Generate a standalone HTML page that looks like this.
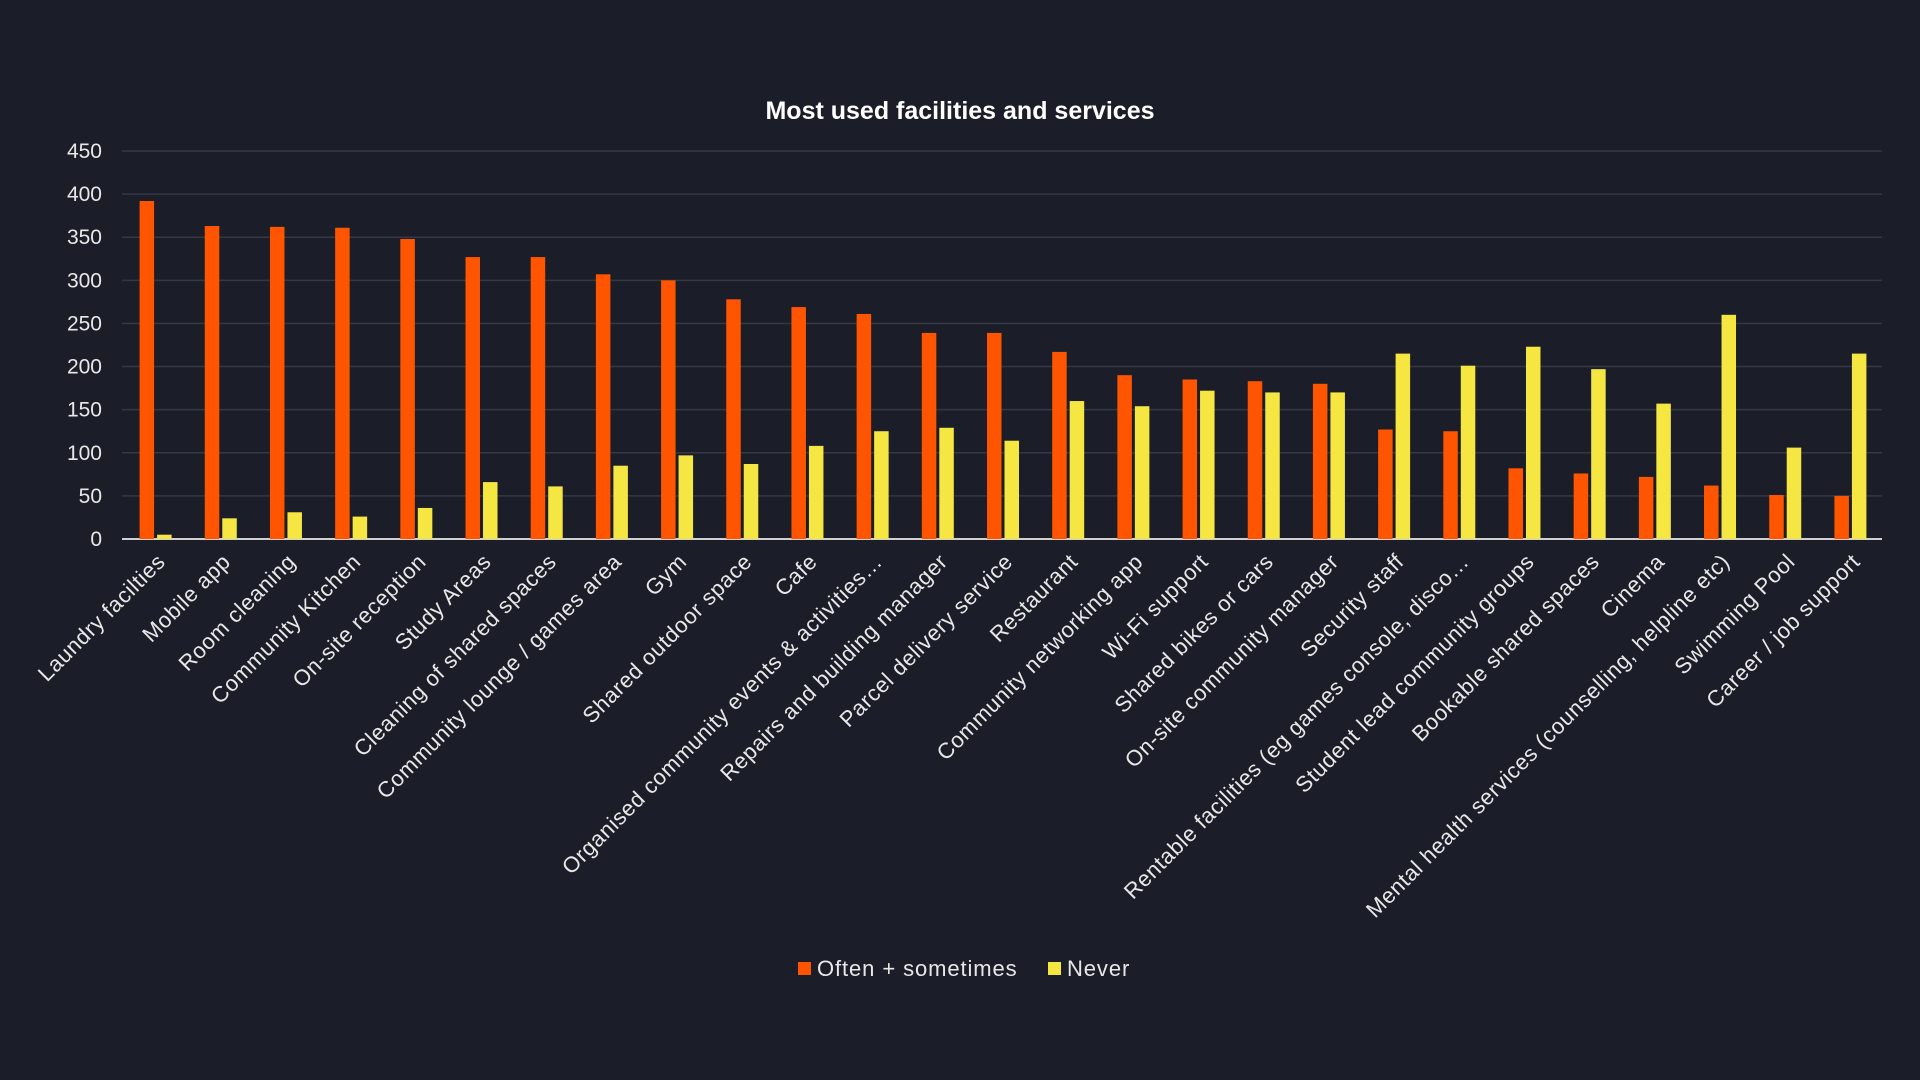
<!DOCTYPE html>
<html><head><meta charset="utf-8"><style>
html,body{margin:0;padding:0;background:#1b1e28;}
svg{display:block;font-family:"Liberation Sans",sans-serif;}
</style></head><body>
<svg id="chart" width="1920" height="1080">
<rect width="1920" height="1080" fill="#1b1e28"/>
<text x="960" y="119" fill="#fff" font-size="25" font-weight="bold" text-anchor="middle">Most used facilities and services</text>
<g id="grid"></g><g id="bars"></g><g id="labels"></g>
<g>
<rect x="798" y="962" width="13" height="13" fill="#ff5500"/>
<text x="817" y="976" fill="#e8e8e8" font-size="22" letter-spacing="0.9">Often + sometimes</text>
<rect x="1048" y="962" width="13" height="13" fill="#f5e642"/>
<text x="1067" y="976" fill="#e8e8e8" font-size="22" letter-spacing="0.9">Never</text>
</g>
</svg>
<script>
const categories=["Laundry facilties","Mobile app","Room cleaning","Community Kitchen","On-site reception","Study Areas","Cleaning of shared spaces","Community lounge / games area","Gym","Shared outdoor space","Cafe","Organised community events & activities…","Repairs and building manager","Parcel delivery service","Restaurant","Community networking app","Wi-Fi support","Shared bikes or cars","On-site community manager","Security staff","Rentable facilities (eg games console, disco…","Student lead community groups","Bookable shared spaces","Cinema","Mental health services (counselling, helpline etc)","Swimming Pool","Career / job support"];
const often=[392,363,362,361,348,327,327,307,300,278,269,261,239,239,217,190,185,183,180,127,125,82,76,72,62,51,50];
const never=[5,24,31,26,36,66,61,85,97,87,108,125,129,114,160,154,172,170,170,215,201,223,197,157,260,106,215];
const ticks=[0,50,100,150,200,250,300,350,400,450];
const NS="http://www.w3.org/2000/svg";
const x0=122,x1=1882,yBase=539,yTop=151,maxV=450;
const step=(x1-x0)/categories.length;
const y=v=>yBase-(v/maxV)*(yBase-yTop);
const xc=i=>x0+step*(i+0.5);
function mk(tag,attrs,parent){const e=document.createElementNS(NS,tag);for(const k in attrs)e.setAttribute(k,attrs[k]);parent.appendChild(e);return e;}
const grid=document.getElementById('grid'),bars=document.getElementById('bars'),labels=document.getElementById('labels');
ticks.forEach(t=>{
  const l=mk('line',{x1:x0,x2:x1,y1:y(t),y2:y(t),stroke:t===0?'#d0d0d0':'#343844','stroke-width':t===0?2:1.5},grid);
  
  
  const tx=mk('text',{x:102,y:y(t)+7,fill:'#e8e8e8','font-size':21,'text-anchor':'end'},grid);
  tx.textContent=t;
  
  
});
categories.forEach((c,i)=>{
  const bw=14.5,cx=xc(i);
  const a=mk('rect',{x:cx-bw-0.5,y:y(often[i]),width:bw,height:yBase-y(often[i]),fill:'#ff5500'},bars);
  
  
  const b=mk('rect',{x:cx+2.5,y:y(never[i]),width:bw,height:yBase-y(never[i]),fill:'#f5e642'},bars);
  
  
  const t=mk('text',{x:0,y:0,fill:'#e8e8e8','font-size':22,'letter-spacing':0.6,'text-anchor':'end',transform:`translate(${cx+12},${yBase+24}) rotate(-45)`},labels);
  t.textContent=c;
  
  
});
</script>
</body></html>
